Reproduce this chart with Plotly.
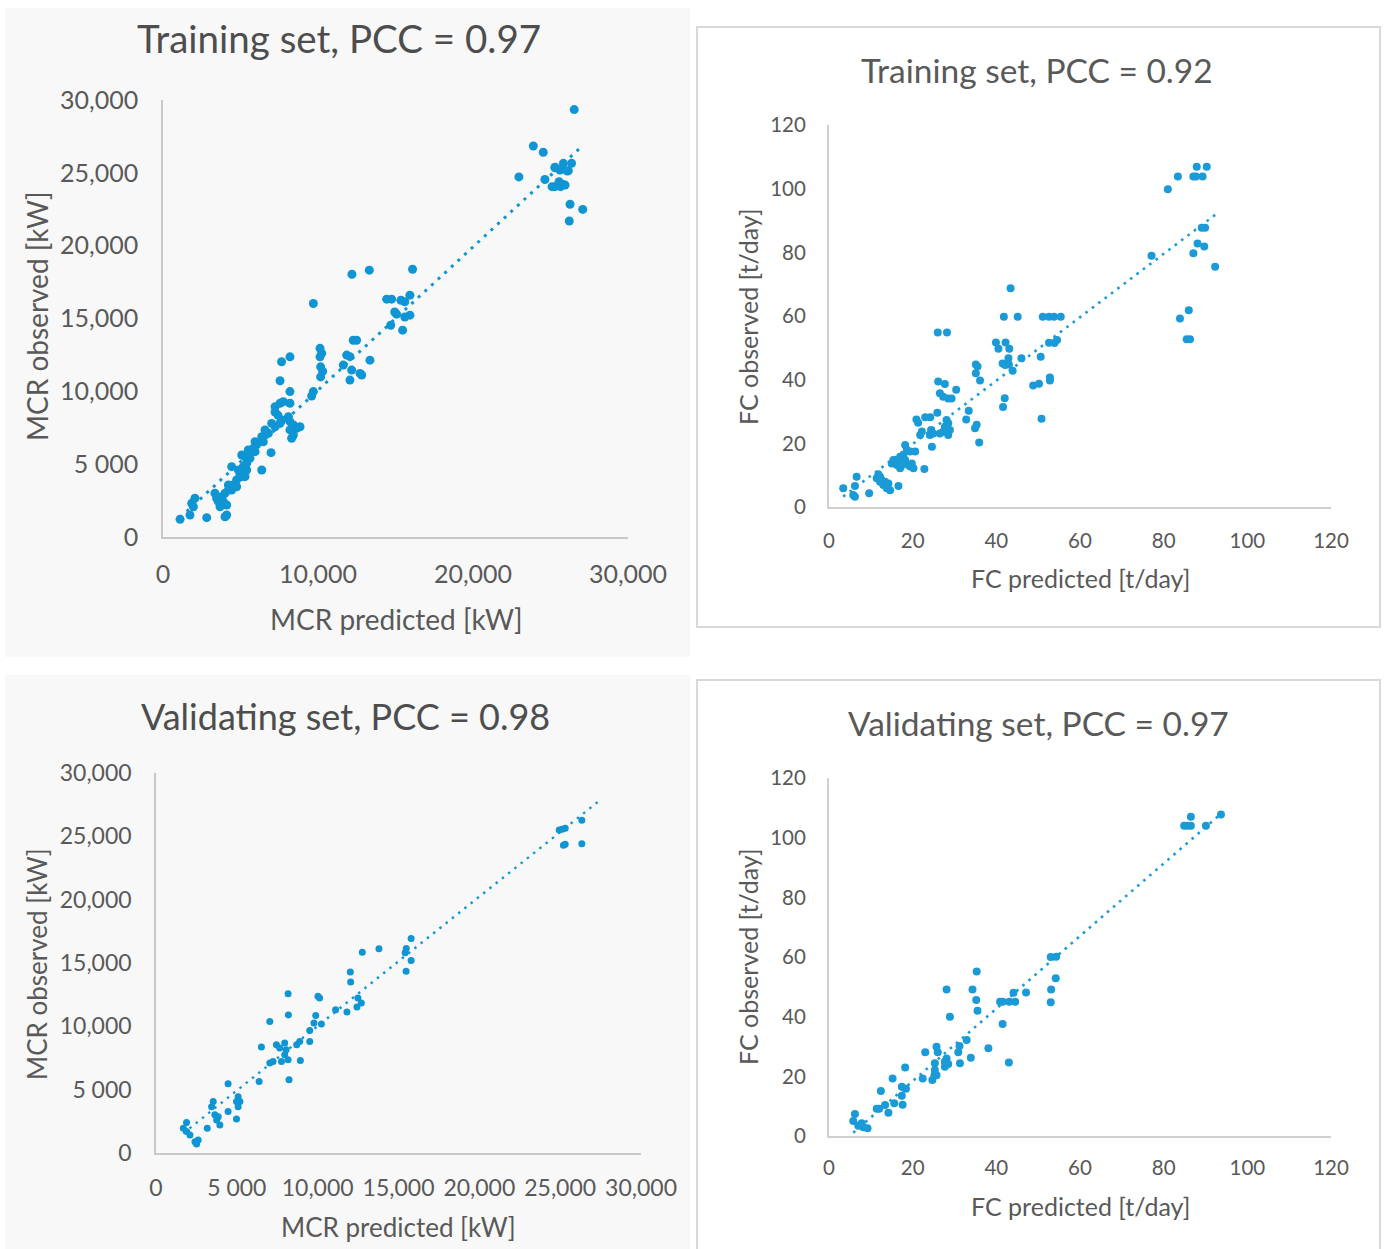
import numpy as np
import plotly.graph_objects as go

# ---------------- data ----------------
# MCR, training set (kW)
mcr_train_pred = [
    22960, 23890, 24530, 24640, 25290, 25720, 26150, 26360, 25290, 25610,
    26090, 25830, 25100, 25290, 25550, 25800, 25650, 25940, 26260, 27080,
    26210, 26530,
    14430, 14750, 15930, 15600, 15350, 15070, 14950, 15930, 15600, 14690,
    15460, 16100, 13310, 12190, 9700,
    12270, 12490, 11850, 12060, 11630, 12170, 12710, 12820, 12060, 13350,
    10130, 10240, 10130, 10170, 10300, 10170, 9700, 9590,
    7550, 8190, 7650, 8190,
    7230, 7550, 7760, 8190, 7230, 7420, 8090, 8190, 8410, 8620, 8840, 8190,
    8410, 8300, 7660, 7550, 7010, 7230, 6580, 6800, 6370, 6470, 5940, 6040,
    5830, 5940, 6970, 5500, 5290, 5610, 5080, 5400, 5180, 5400, 6370, 4430,
    4860, 4970, 4750, 4540, 4430, 4750, 5080, 5290, 4220, 4330, 4220, 4000,
    3790, 3890, 4110, 3680, 3350, 3460, 3570, 4110, 4000, 2820, 2060, 1850,
    1960, 1740, 1100,
]
mcr_train_obs = [
    24720, 26840, 26410, 24540, 25380, 25240, 25150, 25650, 25350, 25190,
    25120, 25650, 24050, 24050, 24390, 24200, 24050, 24160, 22840, 22490,
    21690, 29340,
    16330, 16330, 16600, 16150, 16250, 15300, 15450, 15230, 15100, 14540,
    14200, 18380, 18320, 18040, 16030,
    13510, 13510, 12490, 12380, 11800, 11460, 11230, 11120, 10770, 12140,
    12950, 12610, 12370, 11680, 11370, 10990, 9980, 9680,
    10730, 9980, 12030, 12370,
    8950, 9180, 9290, 9180, 8580, 8350, 8260, 7920, 7690, 7460, 7570, 7350,
    7000, 6780, 8030, 7800, 7800, 7570, 7350, 7120, 6890, 6540, 6540, 6320,
    6090, 5860, 5790, 5970, 5510, 5400, 5630, 5060, 4830, 4600, 4600, 4830,
    4600, 4260, 3910, 3570, 3230, 3450, 4140, 4140, 3570, 3450, 3230, 3000,
    2770, 2430, 2200, 2080, 3000, 2660, 2430, 1510, 1390, 1330, 2660, 2310,
    2080, 1510, 1210,
]

# FC, training set (t/day)
fc_train_pred = [
    87.9, 90.3, 83.4, 87.1, 87.7, 89.3, 81.0, 89.1, 89.9, 88.1, 89.7, 87.1,
    92.3, 77.1, 86.0, 83.9, 85.5, 86.3,
    43.4, 41.8, 45.1, 51.1, 52.6, 53.8, 55.4, 26.0, 28.2, 39.9, 42.2, 40.5,
    43.1, 46.0, 52.6, 54.5, 53.9, 50.6, 42.9, 41.5, 42.1, 43.0, 43.9, 35.1,
    35.5, 35.1, 36.1, 48.8, 50.2, 52.8, 52.8, 26.1, 27.7, 30.4, 26.5, 27.3,
    28.5, 29.3, 42.0, 41.6, 50.8, 33.4, 32.8, 25.9, 24.2, 23.0, 20.9, 21.3,
    28.1, 28.5, 27.7, 28.9, 27.3, 28.5, 26.5, 24.4, 24.9, 24.1, 24.6, 22.2,
    21.8, 35.3, 34.9, 35.9, 22.8,
    18.2, 18.6, 19.4, 20.6, 17.8, 17.0, 18.2, 16.6, 15.4, 15.0, 16.2, 17.4,
    19.0, 19.8, 20.2, 19.4, 17.0, 11.8, 12.2, 12.6, 13.4, 14.2, 13.0, 13.8,
    14.6, 11.4, 12.2, 16.6, 6.6, 6.2, 5.8, 6.2, 9.6, 3.4,
]
fc_train_obs = [
    106.9, 106.9, 103.8, 103.8, 103.8, 103.8, 99.8, 87.7, 87.7, 82.8, 81.8, 79.7,
    75.5, 78.9, 61.8, 59.2, 52.7, 52.7,
    68.7, 59.8, 59.8, 59.8, 59.8, 59.8, 59.8, 54.8, 54.8, 51.7, 51.7, 49.7,
    49.7, 46.7, 51.6, 52.5, 51.5, 47.2, 46.7, 45.1, 44.6, 44.8, 42.8, 44.8,
    44.1, 42.0, 39.7, 38.2, 38.7, 40.7, 39.7, 39.4, 38.6, 36.8, 35.7, 34.6,
    34.1, 34.1, 34.2, 31.4, 27.7, 30.2, 27.5, 29.6, 28.2, 28.2, 27.5, 26.5,
    27.3, 26.3, 25.2, 24.2, 23.6, 22.6, 23.1, 24.2, 23.1, 22.6, 18.9, 23.7,
    22.6, 25.8, 24.7, 20.3, 11.9,
    19.5, 17.9, 17.4, 17.4, 16.3, 15.8, 14.8, 13.7, 14.8, 13.7, 13.2, 13.2,
    13.2, 13.7, 12.2, 12.7, 12.2, 10.3, 9.5, 8.5, 7.9, 7.4, 6.9, 5.9,
    5.3, 9.0, 7.9, 6.6, 9.5, 6.6, 3.8, 3.2, 4.3, 5.9,
]

# MCR, validating set (kW)
mcr_val_pred = [
    26340, 24940, 25120, 25310, 25200, 25310, 26340,
    15780, 15410, 15480, 15780, 15470,
    12760, 13790, 12020, 12040, 12490, 12700, 12430, 11810, 11110,
    8170, 10020, 10120, 8190, 7040, 9880, 9770, 10230, 9510, 8890, 9510, 8700,
    6520, 7450, 7960, 7650, 8050, 7960, 8170, 7760, 7240, 7040, 8930,
    6380, 8230, 4460, 5080, 5190, 5080, 4980, 3540, 3440, 4460, 3640, 3850,
    3750, 3950, 4980, 3170, 1890, 1690, 1890, 2100, 2410, 2610, 2510,
]
mcr_val_obs = [
    26270, 25500, 25560, 25630, 24290, 24370, 24420,
    16930, 15800, 16140, 15190, 14340,
    15850, 16120, 14290, 13500, 12240, 11840, 11530, 11130, 11310,
    12580, 12370, 12240, 10900, 10390, 10860, 10260, 10180, 9680, 8810, 8810, 8540,
    8360, 8540, 8680, 8280, 8150, 7750, 7360, 7220, 7220, 7100, 7300,
    5640, 5780, 5460, 4450, 4060, 3660, 4060, 4060, 3660, 3270, 3010, 2870,
    2610, 2220, 2690, 1950, 2400, 1950, 1690, 1420, 890, 1030, 710,
]

# FC, validating set (t/day)
fc_val_pred = [
    93.7, 86.5, 84.9, 85.7, 86.5, 90.1,
    53.0, 54.3, 54.2, 53.1, 53.0,
    35.3, 28.1, 34.3, 35.2, 35.5, 28.9, 40.9, 41.5, 43.1, 44.5, 44.1, 47.1,
    41.5, 38.1, 43.0, 32.9, 31.2, 30.9, 33.9, 31.3,
    25.7, 26.0, 23.0, 28.1, 27.7, 28.5, 27.7, 25.3, 25.3, 25.7, 25.2,
    18.2, 22.4, 24.7, 15.2, 17.4, 18.4, 17.4, 17.6,
    12.4, 13.4, 15.6, 11.4, 12.0, 14.2, 6.2, 5.8, 7.0, 7.8, 8.2, 9.2,
]
fc_val_obs = [
    107.8, 107.0, 104.0, 104.0, 104.0, 104.0,
    60.0, 60.1, 52.9, 49.1, 44.8,
    55.1, 49.1, 49.1, 45.6, 42.0, 40.0, 45.0, 45.0, 45.0, 45.0, 48.0, 48.1,
    37.5, 29.4, 24.6, 32.2, 30.2, 28.1, 26.2, 24.4,
    29.9, 28.1, 28.1, 26.0, 24.9, 24.1, 23.2, 24.4, 22.1, 20.4, 20.4,
    23.0, 19.3, 18.8, 19.3, 16.5, 15.8, 13.5, 10.5,
    15.1, 10.4, 11.0, 9.1, 9.1, 7.8, 7.4, 5.0, 3.4, 4.3, 2.9, 2.6,
]

panel_titles = [
    "Training set, PCC = 0.97",
    "Training set, PCC = 0.92",
    "Validating set, PCC = 0.98",
    "Validating set, PCC = 0.97",
]
mcr_y_tick_vals = [0, 5000, 10000, 15000, 20000, 25000, 30000]
mcr_y_tick_text = ["0", "5 000", "10,000", "15,000", "20,000", "25,000", "30,000"]
mcr_train_x_tick_vals = [0, 10000, 20000, 30000]
mcr_train_x_tick_text = ["0", "10,000", "20,000", "30,000"]
mcr_val_x_tick_vals = [0, 5000, 10000, 15000, 20000, 25000, 30000]
mcr_val_x_tick_text = ["0", "5 000", "10,000", "15,000", "20,000", "25,000", "30,000"]
fc_tick_vals = [0, 20, 40, 60, 80, 100, 120]
fc_tick_text = ["0", "20", "40", "60", "80", "100", "120"]

# trendline forward forecast on the validating MCR chart (kW)
mcr_val_forecast = 1000

# ---------------- layout helpers ----------------
W, H = 1386, 1249
FONT = "Lato"
TXT = "#595959"


def px(x):
    return x / W


def py(y):
    return 1 - y / H


def trend(xv, yv, forward=0.0):
    k, b = np.polyfit(xv, yv, 1)
    xs = np.array([min(xv), max(xv) + forward])
    return xs, k * xs + b


fig = go.Figure()

panels = [
    dict(x=mcr_train_pred, y=mcr_train_obs, ax="", xd=(163, 628), yd=(100, 537),
         xt=(mcr_train_x_tick_vals, mcr_train_x_tick_text),
         yt=(mcr_y_tick_vals, mcr_y_tick_text), rmax=30000,
         color="#0f95d3", size=9, lw=3, dash="3px,6px", fwd=0,
         fs=25, lc="#c8c8c8", alw=1.5, sx=14, sy=18),
    dict(x=fc_train_pred, y=fc_train_obs, ax="2", xd=(829, 1331), yd=(125, 507),
         xt=(fc_tick_vals, fc_tick_text), yt=(fc_tick_vals, fc_tick_text), rmax=120,
         color="#1a9bd7", size=8, lw=2.6, dash="2.6px,5.4px", fwd=0,
         fs=20.5, lc="#d0d0d0", alw=2, sx=14, sy=17),
    dict(x=mcr_val_pred, y=mcr_val_obs, ax="3", xd=(156, 641), yd=(773, 1153),
         xt=(mcr_val_x_tick_vals, mcr_val_x_tick_text),
         yt=(mcr_y_tick_vals, mcr_y_tick_text), rmax=30000,
         color="#0f95d3", size=7, lw=2.4, dash="2.4px,5.6px", fwd=mcr_val_forecast,
         fs=23, lc="#c8c8c8", alw=1.5, sx=14, sy=18),
    dict(x=fc_val_pred, y=fc_val_obs, ax="4", xd=(829, 1331), yd=(778, 1136),
         xt=(fc_tick_vals, fc_tick_text), yt=(fc_tick_vals, fc_tick_text), rmax=120,
         color="#1a9bd7", size=8, lw=2.6, dash="2.6px,5.4px", fwd=0,
         fs=20.5, lc="#d0d0d0", alw=2, sx=12, sy=17),
]

layout_axes = {}
for p in panels:
    sfx = p["ax"]
    tx, ty = trend(p["x"], p["y"], p["fwd"])
    fig.add_trace(go.Scatter(
        x=p["x"], y=p["y"], mode="markers", xaxis="x" + sfx, yaxis="y" + sfx,
        marker=dict(color=p["color"], size=p["size"], line=dict(width=0)),
        showlegend=False, hoverinfo="skip"))
    fig.add_trace(go.Scatter(
        x=tx, y=ty, mode="lines", xaxis="x" + sfx, yaxis="y" + sfx,
        line=dict(color=p["color"], width=p["lw"], dash=p["dash"]),
        showlegend=False, hoverinfo="skip"))

    common = dict(showgrid=False, zeroline=False, showline=True, ticks="",
                  mirror=False, automargin=False, tickangle=0,
                  range=[0, p["rmax"]], linecolor=p["lc"], linewidth=p["alw"],
                  tickfont=dict(family=FONT, size=p["fs"], color=TXT))
    layout_axes["xaxis" + sfx] = dict(
        common, domain=[px(p["xd"][0]), px(p["xd"][1])],
        tickvals=p["xt"][0], ticktext=p["xt"][1], anchor="y" + sfx,
        ticklabelstandoff=p["sx"])
    layout_axes["yaxis" + sfx] = dict(
        common, domain=[py(p["yd"][1]), py(p["yd"][0])],
        tickvals=p["yt"][0], ticktext=p["yt"][1], anchor="x" + sfx,
        ticklabelstandoff=p["sy"])

# panel backgrounds / frames
shapes = [
    dict(type="rect", xref="paper", yref="paper", x0=px(5), x1=px(690),
         y0=py(657), y1=py(8), fillcolor="#f8f8f8", line=dict(width=0), layer="below"),
    dict(type="rect", xref="paper", yref="paper", x0=px(5), x1=px(690),
         y0=py(1249), y1=py(675), fillcolor="#f8f8f8", line=dict(width=0), layer="below"),
    dict(type="rect", xref="paper", yref="paper", x0=px(697), x1=px(1380),
         y0=py(627), y1=py(27), fillcolor="white", line=dict(color="#d9d9d9", width=2),
         layer="below"),
    dict(type="rect", xref="paper", yref="paper", x0=px(697), x1=px(1380),
         y0=py(1260), y1=py(680), fillcolor="white", line=dict(color="#d9d9d9", width=2),
         layer="below"),
]

annotations = []


def label(text, x, y, size, angle=0, color=TXT):
    annotations.append(dict(
        text=text, x=px(x), y=py(y), xref="paper", yref="paper", showarrow=False,
        xanchor="center", yanchor="middle", textangle=angle,
        font=dict(family=FONT, size=size, color=color)))


label(panel_titles[0], 339, 38, 38.5, color="#4d4d4d")
label(panel_titles[1], 1037, 70, 33.5)
label(panel_titles[2], 345, 716, 36, color="#4d4d4d")
label(panel_titles[3], 1038, 723, 33.5)

label("MCR predicted [kW]", 396, 619, 28)
label("MCR observed [kW]", 37, 316, 28, angle=-90)
label("FC predicted [t/day]", 1080, 578, 25)
label("FC observed [t/day]", 748, 317, 25, angle=-90)
label("MCR predicted [kW]", 398, 1227, 26)
label("MCR observed [kW]", 37, 964, 26, angle=-90)
label("FC predicted [t/day]", 1080, 1206, 25)
label("FC observed [t/day]", 748, 957, 25, angle=-90)

fig.update_layout(
    template="none",
    width=W, height=H, margin=dict(l=0, r=0, t=0, b=0, pad=0),
    paper_bgcolor="white", plot_bgcolor="rgba(0,0,0,0)",
    shapes=shapes, annotations=annotations, showlegend=False,
    **layout_axes,
)

fig.write_html("out.html")
